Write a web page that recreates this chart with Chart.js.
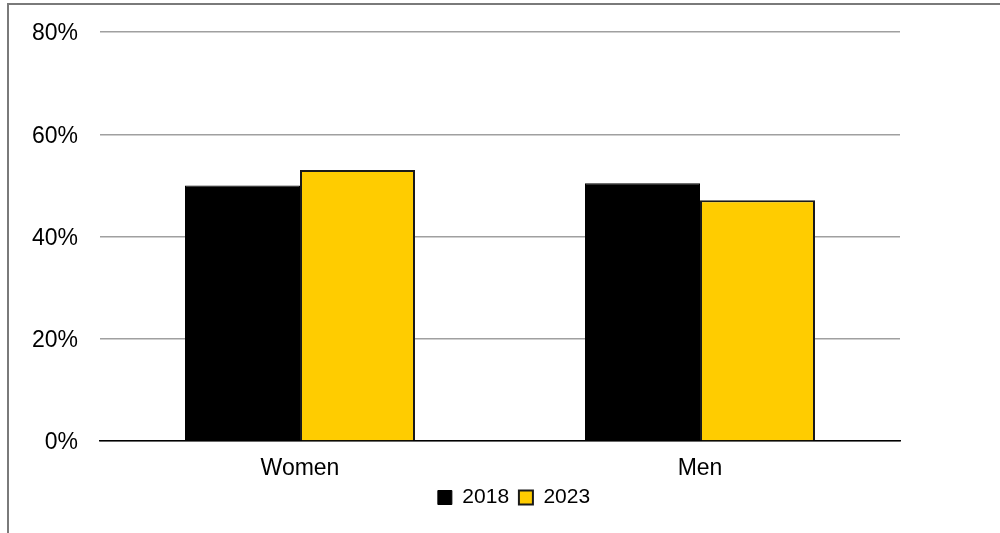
<!DOCTYPE html>
<html>
<head>
<meta charset="utf-8">
<script src="https://cdn.jsdelivr.net/npm/chart.js@4/dist/chart.umd.min.js"></script>
<style>
  html, body { margin: 0; padding: 0; background: #fff; }
  #wrap { width: 1000px; height: 533px; position: relative; }
</style>
</head>
<body>
<div id="wrap"><canvas id="chart"></canvas></div>
<script>
const categories = ['Women', 'Men'];
const years = ['2018', '2023'];
const values2018 = [50.0, 50.4];
const values2023 = [53.0, 47.1];
const yTicks = [0, 20, 40, 60, 80];

// outer frame (only top and left edges are visible in the picture)
const framePlugin = {
  id: 'frame',
  beforeDraw(chart) {
    const ctx = chart.ctx;
    ctx.save();
    ctx.strokeStyle = '#7a7a7a';
    ctx.lineWidth = 2;
    ctx.beginPath();
    ctx.moveTo(8, 600);
    ctx.lineTo(8, 4);
    ctx.lineTo(1010, 4);
    ctx.stroke();
    ctx.restore();
  }
};

Chart.defaults.font.family = '"Liberation Sans", Arial, sans-serif';
Chart.defaults.color = '#000';

new Chart(document.getElementById('chart'), {
  type: 'bar',
  data: {
    labels: categories,
    datasets: [{
      label: years[0],
      data: values2018,
      backgroundColor: '#000000',
      borderColor: '#000000',
      borderWidth: 1
    }, {
      label: years[1],
      data: values2023,
      backgroundColor: '#FFCC00',
      borderColor: '#1a1a1a',
      borderWidth: 2
    }]
  },
  options: {
    responsive: true,
    maintainAspectRatio: false,
    animation: false,
    categoryPercentage: 0.575,
    barPercentage: 1,
    layout: { padding: { left: 28, right: 0, top: 32, bottom: 15 } },
    plugins: {
      legend: {
        position: 'bottom',
        labels: {
          font: { size: 21 },
          boxWidth: 14,
          boxHeight: 14,
          padding: 4,
          // a little more room after the first entry
          generateLabels: chart => Chart.defaults.plugins.legend.labels.generateLabels(chart)
            .map((item, i) => Object.assign(item, { text: i === 0 ? item.text + ' ' : item.text }))
        }
      },
      tooltip: { enabled: false }
    },
    scales: {
      x: {
        grid: { display: false },
        border: { display: true, color: '#000', width: 1.5 },
        ticks: { font: { size: 23 }, padding: 6 },
        afterFit: scale => { scale.height = 42; }
      },
      y: {
        min: 0,
        max: 80,
        afterBuildTicks: scale => { scale.ticks = yTicks.map(v => ({ value: v })); },
        grid: { color: '#a0a0a0', lineWidth: 1.5, drawTicks: false },
        border: { display: false },
        ticks: {
          font: { size: 23 },
          padding: 22,
          labelOffset: 2,
          callback: v => v + '%'
        },
        afterFit: scale => {
          scale.width = 72;
          scale.paddingTop = 0;
          scale.paddingBottom = 0;
        }
      },
      // empty right-hand space, so the legend stays centred on the whole picture
      yRight: {
        position: 'right',
        grid: { display: false },
        border: { display: false },
        ticks: { display: false },
        afterFit: scale => { scale.width = 100; }
      }
    }
  },
  plugins: [framePlugin]
});
</script>
</body>
</html>
